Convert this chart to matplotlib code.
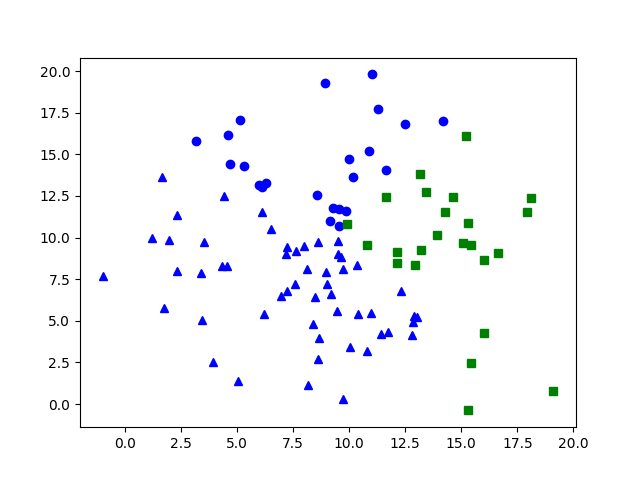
import matplotlib
matplotlib.use("Agg")
import matplotlib.pyplot as plt

# blue circles
circle_x = [8.93, 11.03, 11.29, 12.50, 14.20, 5.13, 4.60, 3.16, 4.69, 5.30,
            10.89, 10.00, 11.65, 10.18, 5.98, 6.09, 6.31, 8.57, 9.30, 9.54,
            9.84, 9.14, 9.54]
circle_y = [19.26, 19.80, 17.72, 16.80, 16.98, 17.04, 16.16, 15.78, 14.41, 14.29,
            15.18, 14.70, 14.04, 13.62, 13.15, 13.03, 13.27, 12.54, 11.75, 11.71,
            11.57, 10.99, 10.67]

# blue triangles
tri_x = [1.65, 4.41, 2.32, 6.12, 6.50, 1.21, 1.95, 3.51, 7.23, 7.20,
         7.63, 7.99, 8.61, 9.51, 9.50, 9.63, -1.00, 2.31, 3.39, 4.33,
         4.55, 8.12, 8.97, 9.73, 10.35, 7.59, 9.02, 7.23, 6.96, 8.48,
         9.19, 12.32, 1.74, 6.20, 9.46, 10.40, 10.98, 12.90, 13.01, 12.84,
         3.44, 8.39, 8.66, 11.43, 11.74, 12.81, 10.03, 10.80, 8.61, 3.92,
         5.04, 8.17, 9.72]
tri_y = [13.63, 12.51, 11.37, 11.55, 10.54, 10.00, 9.87, 9.74, 9.45, 9.01,
         9.21, 9.52, 9.76, 9.81, 9.03, 8.85, 7.71, 7.99, 7.89, 8.31,
         8.31, 8.13, 7.95, 8.13, 8.38, 7.23, 7.23, 6.80, 6.50, 6.44,
         6.62, 6.82, 5.77, 5.42, 5.56, 5.42, 5.48, 5.29, 5.24, 4.92,
         5.03, 4.83, 3.99, 4.22, 4.34, 4.16, 3.41, 3.20, 2.72, 2.54,
         1.38, 1.17, 0.30]

# green squares
sq_x = [15.22, 13.17, 13.44, 11.65, 14.64, 18.13, 14.29, 17.93, 15.31, 9.91,
        13.93, 10.80, 15.08, 15.45, 12.14, 13.21, 16.65, 12.13, 12.93, 16.03,
        16.03, 15.45, 19.11, 15.31]
sq_y = [16.10, 13.81, 12.73, 12.41, 12.41, 12.35, 11.53, 11.53, 10.85, 10.79,
        10.15, 9.53, 9.65, 9.53, 9.13, 9.23, 9.07, 8.45, 8.33, 8.63,
        4.25, 2.48, 0.76, -0.38]

fig = plt.figure(figsize=(6.4, 4.8), dpi=100)
plt.plot(circle_x, circle_y, 'bo')
plt.plot(tri_x, tri_y, 'b^')
plt.plot(sq_x, sq_y, 'gs')

plt.savefig("out.png")
